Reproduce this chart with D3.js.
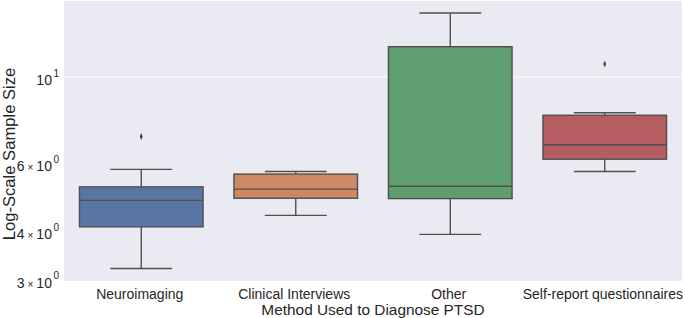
<!DOCTYPE html>
<html>
<head>
<meta charset="utf-8">
<script src="https://cdn.jsdelivr.net/npm/d3@7"></script>
<style>
  html, body { margin: 0; padding: 0; background: #ffffff; }
  svg { display: block; }
  text { font-family: "Liberation Sans", Arial, sans-serif; fill: #262626; }
</style>
</head>
<body>
<svg id="chart" width="685" height="318"></svg>
<script>
// ---- data ----
const categories   = ["Neuroimaging", "Clinical Interviews", "Other", "Self-report questionnaires"];
const whiskerLow   = [3.21, 4.40, 3.93, 5.71];
const q1           = [4.11, 4.87, 4.86, 6.14];
const medians      = [4.81, 5.14, 5.23, 6.69];
const q3           = [5.21, 5.62, 11.97, 7.97];
const whiskerHigh  = [5.78, 5.71, 14.62, 8.09];
const outliers     = [[7.02], [], [], [10.80]];
const colors       = ["#5875a4", "#cc8963", "#5f9e6e", "#b55d60"];
const yTicks       = [3, 4, 6, 10];
const yTickLabels  = [["3", "0"], ["4", "0"], ["6", "0"], [null, "1"]];
const xTitle = "Method Used to Diagnose PTSD";
const yTitle = "Log-Scale Sample Size";

// ---- layout ----
const W = 685, H = 318;
const margin = { left: 64, right: 3, top: 1, bottom: 37 };
const iw = W - margin.left - margin.right;
const ih = H - margin.top - margin.bottom;

const svg = d3.select("#chart");
const g = svg.append("g").attr("transform", `translate(${margin.left},${margin.top})`);

const x = d3.scaleBand().domain(categories).range([0, iw]).paddingInner(0).paddingOuter(0);
const y = d3.scaleLog().domain([2.98, 15.70]).range([ih, 0]);

// background
g.append("rect").attr("width", iw).attr("height", ih).attr("fill", "#eaeaf2");

// gridline (major only)
g.append("line")
  .attr("x1", 0).attr("x2", iw)
  .attr("y1", y(10)).attr("y2", y(10))
  .attr("stroke", "#ffffff").attr("stroke-width", 1.2);

const lineColor = "#4f4f4f";
const bw = x.bandwidth() * 0.8;

categories.forEach((c, i) => {
  const cx = x(c) + x.bandwidth() / 2;
  const grp = g.append("g");
  grp.append("line").attr("x1", cx).attr("x2", cx)
    .attr("y1", y(q3[i])).attr("y2", y(whiskerHigh[i]))
    .attr("stroke", lineColor).attr("stroke-width", 1.4);
  grp.append("line").attr("x1", cx).attr("x2", cx)
    .attr("y1", y(q1[i])).attr("y2", y(whiskerLow[i]))
    .attr("stroke", lineColor).attr("stroke-width", 1.4);
  [whiskerHigh[i], whiskerLow[i]].forEach(v => {
    grp.append("line").attr("x1", cx - bw / 4).attr("x2", cx + bw / 4)
      .attr("y1", y(v)).attr("y2", y(v))
      .attr("stroke", lineColor).attr("stroke-width", 1.4);
  });
  grp.append("rect")
    .attr("x", cx - bw / 2).attr("width", bw)
    .attr("y", y(q3[i])).attr("height", y(q1[i]) - y(q3[i]))
    .attr("fill", colors[i]).attr("stroke", lineColor).attr("stroke-width", 1.4);
  grp.append("line").attr("x1", cx - bw / 2).attr("x2", cx + bw / 2)
    .attr("y1", y(medians[i])).attr("y2", y(medians[i]))
    .attr("stroke", lineColor).attr("stroke-width", 1.4);
  outliers[i].forEach(v => {
    grp.append("path")
      .attr("d", d3.symbol().type(d3.symbolDiamond).size(10)())
      .attr("transform", `translate(${cx},${y(v)}) scale(0.8,1.2)`)
      .attr("fill", "#3a3a3a");
  });
});

// x tick labels
categories.forEach(c => {
  const t = g.append("text")
    .attr("x", x(c) + x.bandwidth() / 2 - 1.5)
    .attr("y", ih + 17.5)
    .attr("text-anchor", "middle")
    .attr("font-size", 14)
    .text(c);
  // keep label inside the page
  const bb = t.node().getBBox();
  const overflow = margin.left + bb.x + bb.width - (W - 2);
  if (overflow > 0) t.attr("x", +t.attr("x") - overflow);
});

// y tick labels with superscripts
yTicks.forEach((t, i) => {
  const [m, e] = yTickLabels[i];
  const txt = g.append("text")
    .attr("x", -5)
    .attr("y", y(t) + 8)
    .attr("text-anchor", "end")
    .attr("font-size", 14);
  if (m !== null) {
    txt.append("tspan").text(m);
    txt.append("tspan").attr("font-size", 10).attr("dx", 3).text("×");
    txt.append("tspan").attr("dx", 3).text("10");
  } else {
    txt.append("tspan").text("10");
  }
  txt.append("tspan").attr("font-size", 10).attr("dx", 1.5).attr("dy", -8.5).text(e);
});

// axis titles
svg.append("text")
  .attr("x", margin.left + iw / 2)
  .attr("y", 314.5)
  .attr("text-anchor", "middle")
  .attr("font-size", 15.4)
  .text(xTitle);

svg.append("text")
  .attr("transform", "translate(14.5,154) rotate(-90)")
  .attr("text-anchor", "middle")
  .attr("font-size", 16.6)
  .text(yTitle);
</script>
</body>
</html>
